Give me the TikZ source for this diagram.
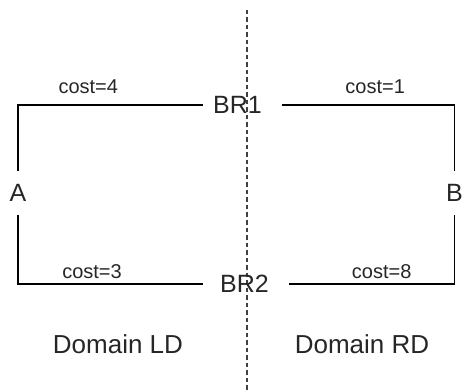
\documentclass[tikz,border=0pt]{standalone}
\usepackage{fontspec}
\setmainfont{Liberation Sans}
\begin{document}
\begin{tikzpicture}[
		x=1pt, y=-1pt,
		link/.style={draw, black, line width=1.3pt},
		router/.style={anchor=west, inner xsep=0pt, inner ysep=2pt, text=black!85, font=\fontsize{25}{29}\selectfont},
		host/.style={inner xsep=0pt, inner ysep=13pt, text=black!85, font=\fontsize{25}{29}\selectfont},
		cost/.style={above, inner sep=5pt, text=black!85, font=\fontsize{20}{24}\selectfont},
		domainlabel/.style={text=black!85, font=\fontsize{26}{30}\selectfont},
		border/.style={draw, black!75, line width=1.4pt, dash pattern=on 4.5pt off 3pt}
	]
	\useasboundingbox (0,0) rectangle (463,390);
	
	% Grenze zwischen den Domains
	\coordinate (top) at (247,10);
	\coordinate (bottom) at (247,392);
	\draw[border] (top) -- (bottom);
	
	% Knoten
	\node[host] (A) at (18,193) {A};
	\node[host] (B) at (454.5,193) {B};
	\node[router] (BR1) at (213,105) {BR1};
	\node[router] (BR2) at (220,284) {BR2};
	
	% Verbindungen
	\draw[link] (A.north) |- ([xshift=-10pt]BR1.west) node[cost, pos=0.69, yshift=6pt] {cost=4};
	\draw[link] ([xshift=20pt]BR1.east) -| (B.north) node[cost, pos=0.27, yshift=6pt] {cost=1};
	\draw[link] (A.south) |- ([xshift=-17pt]BR2.west) node[cost, pos=0.70] {cost=3};
	\draw[link] ([xshift=20pt]BR2.east) -| (B.south) node[cost, pos=0.28] {cost=8};
	
	% Domains
	\node[domainlabel] (LD) at (118,344) {Domain LD};
	\node[domainlabel] (RD) at (362,344) {Domain RD};
	
\end{tikzpicture}
\end{document}
